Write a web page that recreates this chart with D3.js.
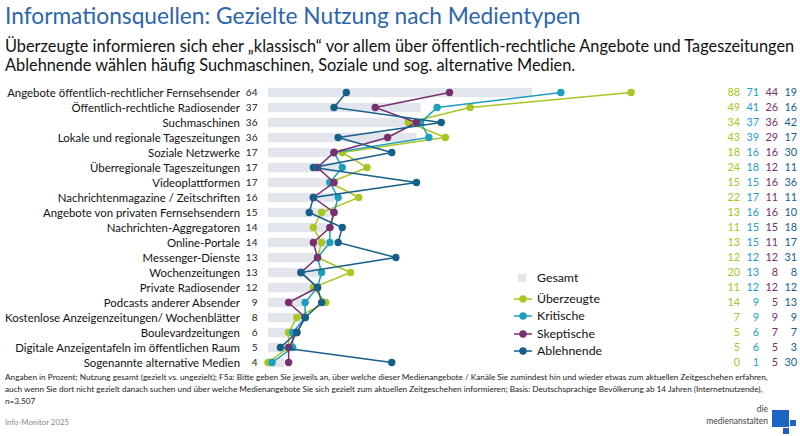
<!DOCTYPE html>
<html><head><meta charset="utf-8">
<script src="https://cdn.jsdelivr.net/npm/d3@7"></script>
<style>
html,body{margin:0;padding:0;background:#fff;}
svg{display:block;font-family:Lato,"Open Sans",sans-serif;}
</style></head>
<body>
<svg id="chart" width="800" height="436"></svg>
<script>
const categories = [
  "Angebote öffentlich-rechtlicher Fernsehsender",
  "Öffentlich-rechtliche Radiosender",
  "Suchmaschinen",
  "Lokale und regionale Tageszeitungen",
  "Soziale Netzwerke",
  "Überregionale Tageszeitungen",
  "Videoplattformen",
  "Nachrichtenmagazine / Zeitschriften",
  "Angebote von privaten Fernsehsendern",
  "Nachrichten-Aggregatoren",
  "Online-Portale",
  "Messenger-Dienste",
  "Wochenzeitungen",
  "Private Radiosender",
  "Podcasts anderer Absender",
  "Kostenlose Anzeigenzeitungen/ Wochenblätter",
  "Boulevardzeitungen",
  "Digitale Anzeigentafeln im öffentlichen Raum",
  "Sogenannte alternative Medien"
];
const gesamt      = [64,37,36,36,17,17,17,16,15,14,14,13,13,12,9,8,6,5,4];
const ueberzeugte = [88,49,34,43,18,24,15,22,13,11,13,12,20,11,14,7,5,5,0];
const kritische   = [71,41,37,39,16,18,15,17,16,15,15,12,13,12,9,9,6,6,1];
const skeptische  = [44,26,36,29,16,12,16,11,16,15,11,12,8,12,5,9,7,5,5];
const ablehnende  = [19,16,42,17,30,11,36,11,10,18,17,31,8,12,13,9,7,3,30];
const seriesNames = ["Überzeugte","Kritische","Skeptische","Ablehnende"];
const seriesValues = [ueberzeugte, kritische, skeptische, ablehnende];
const seriesColors = ["#a8c520","#1b9fbf","#7a2e6e","#155f8b"];

const titleText = "Informationsquellen: Gezielte Nutzung nach Medientypen";
const subtitleLines = [
  "Überzeugte informieren sich eher „klassisch“ vor allem über öffentlich-rechtliche Angebote und Tageszeitungen",
  "Ablehnende wählen häufig Suchmaschinen, Soziale und sog. alternative Medien."
];
const footLines = [
  "Angaben in Prozent; Nutzung gesamt (gezielt vs. ungezielt); F5a: Bitte geben Sie jeweils an, über welche dieser Medienangebote / Kanäle Sie zumindest hin und wieder etwas zum aktuellen Zeitgeschehen erfahren,",
  "auch wenn Sie dort nicht gezielt danach suchen und über welche Medienangebote Sie sich gezielt zum aktuellen Zeitgeschehen informieren; Basis: Deutschsprachige Bevölkerung ab 14 Jahren (Internetnutzende),",
  "n=3.507"
];
const sourceText = "Info-Monitor 2025";

const svg = d3.select("#chart");

function fitWidth(sel, target){
  const w = sel.node().getComputedTextLength();
  const fs = parseFloat(sel.attr("font-size"));
  const nfs = fs*target/w;
  sel.attr("font-size", nfs);
  return nfs;
}

// Title & subtitle
const t = svg.append("text").attr("x",5).attr("y",24).attr("font-size",22)
  .attr("fill","#2c65ad").text(titleText);
fitWidth(t, 576);
const s1 = svg.append("text").attr("x",5).attr("y",52).attr("font-size",17)
  .attr("fill","#111").text(subtitleLines[0]);
const sfs = fitWidth(s1, 790);
svg.append("text").attr("x",5).attr("y",71).attr("font-size",sfs)
  .attr("fill","#111").text(subtitleLines[1]);

// Scales
const x = d3.scaleLinear().domain([0,100]).range([268,680.5]);
const y = d3.scalePoint().domain(categories).range([92.5,362.5]);

// Bars
svg.append("g").selectAll("rect").data(categories).join("rect")
  .attr("x", x(0)).attr("y", d=>y(d)-4.7)
  .attr("width", (d,i)=>x(gesamt[i])-x(0)).attr("height", 9.4)
  .attr("fill","#e2e5eb");

// Labels
const lab = svg.append("g").selectAll("text").data(categories).join("text")
  .attr("x",240).attr("y",d=>y(d)).attr("dy","0.36em")
  .attr("text-anchor","end").attr("font-size",13).attr("fill","#111")
  .text(d=>d);
const lfs = fitWidth(d3.select(lab.nodes()[0]), 233);
lab.attr("font-size", lfs);

svg.append("g").selectAll("text").data(categories).join("text")
  .attr("x",257.5).attr("y",d=>y(d)).attr("dy","0.36em")
  .attr("text-anchor","end").attr("font-size",lfs*0.88).attr("fill","#222")
  .text((d,i)=>gesamt[i]);

// Series lines & dots
const line = d3.line().x(d=>x(d.v)).y(d=>y(d.c));
seriesValues.forEach((vals,si)=>{
  const pts = categories.map((c,i)=>({c, v: vals[i]}));
  const g = svg.append("g");
  g.append("path").datum(pts).attr("d",line).attr("fill","none")
    .attr("stroke",seriesColors[si]).attr("stroke-width",1.5);
  g.selectAll("circle").data(pts).join("circle")
    .attr("cx",d=>x(d.v)).attr("cy",d=>y(d.c)).attr("r",3.7)
    .attr("fill",seriesColors[si]);
});

// Value columns
const colX = [740,759,778,797];
seriesValues.forEach((vals,si)=>{
  svg.append("g").selectAll("text").data(categories).join("text")
    .attr("x",colX[si]).attr("y",d=>y(d)).attr("dy","0.36em")
    .attr("text-anchor","end").attr("font-size",lfs*0.95)
    .attr("fill",seriesColors[si]).text((d,i)=>vals[i]);
});

// Legend
const lg = svg.append("g");
lg.append("rect").attr("x",518).attr("y",274).attr("width",8).attr("height",8).attr("fill","#e2e5eb");
lg.append("text").attr("x",537).attr("y",278).attr("dy","0.36em")
  .attr("font-size",lfs*1.08).attr("fill","#111").text("Gesamt");
const legY = [299,316,334,351];
seriesNames.forEach((n,si)=>{
  lg.append("line").attr("x1",514).attr("x2",532).attr("y1",legY[si]).attr("y2",legY[si])
    .attr("stroke",seriesColors[si]).attr("stroke-width",1.5);
  lg.append("circle").attr("cx",523).attr("cy",legY[si]).attr("r",3.7).attr("fill",seriesColors[si]);
  lg.append("text").attr("x",537).attr("y",legY[si]).attr("dy","0.36em")
    .attr("font-size",lfs*1.08).attr("fill","#111").text(n);
});

// Footnote
const f1 = svg.append("text").attr("x",5).attr("y",380).attr("font-size",10)
  .attr("fill","#222").text(footLines[0]);
const ffs = fitWidth(f1, 763);
svg.append("text").attr("x",5).attr("y",392).attr("font-size",ffs).attr("fill","#222").text(footLines[1]);
svg.append("text").attr("x",5).attr("y",404).attr("font-size",ffs).attr("fill","#222").text(footLines[2]);

const src = svg.append("text").attr("x",5).attr("y",425).attr("font-size",9)
  .attr("fill","#8a8a8a").text(sourceText);
fitWidth(src, 64);

// Logo
svg.append("text").attr("x",768).attr("y",412).attr("text-anchor","end")
  .attr("font-size",8.5).attr("fill","#444").text("die");
svg.append("text").attr("x",768).attr("y",424).attr("text-anchor","end")
  .attr("font-size",8.5).attr("fill","#444").text("medienanstalten");
svg.append("rect").attr("x",772).attr("y",410).attr("width",17).attr("height",17).attr("fill","#1d63c4");
svg.append("rect").attr("x",790).attr("y",420).attr("width",6).attr("height",6).attr("fill","#1d63c4");
svg.append("rect").attr("x",783).attr("y",428).attr("width",6).attr("height",6).attr("fill","#1d63c4");
</script>
</body></html>
